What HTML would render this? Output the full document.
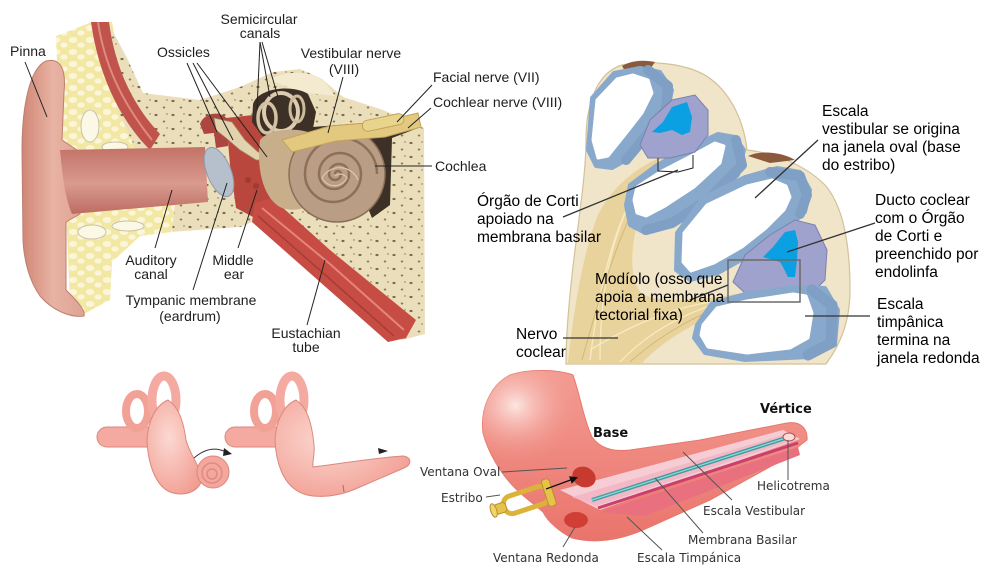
<!DOCTYPE html>
<html><head><meta charset="utf-8">
<style>
html,body{margin:0;padding:0;background:#fff;}
body{width:988px;height:580px;overflow:hidden;}
svg{display:block;}
.tl{font-family:"Liberation Sans",Arial,sans-serif;font-size:14px;fill:#1e1e1e;}
.tr{font-family:"Liberation Sans",Arial,sans-serif;font-size:15.5px;fill:#000;}
.br{font-family:"DejaVu Sans",Verdana,sans-serif;font-size:12px;fill:#333;}
.bb{font-family:"DejaVu Sans",Verdana,sans-serif;font-size:13px;font-weight:bold;fill:#111;}
</style></head><body>
<svg width="988" height="580" viewBox="0 0 988 580" xmlns="http://www.w3.org/2000/svg">
<defs>
<pattern id="bone" width="17" height="14" patternUnits="userSpaceOnUse">
<rect width="17" height="14" fill="#ebdfbb"/>
<ellipse cx="3" cy="3" rx="1.6" ry="1.1" fill="#7a6a4c"/>
<ellipse cx="11" cy="9.5" rx="1.3" ry="1" fill="#8a7856"/>
<ellipse cx="14" cy="2" rx="0.9" ry="0.7" fill="#9a8866"/>
</pattern>
<pattern id="fat" width="17" height="12" patternUnits="userSpaceOnUse">
<rect width="17" height="12" fill="#f2e8a4"/>
<ellipse cx="5" cy="4" rx="4.2" ry="3" fill="#fbf6da"/>
<ellipse cx="13" cy="9" rx="3.6" ry="2.6" fill="#fbf6da"/>
</pattern>
<linearGradient id="pinna" x1="0" y1="0" x2="1" y2="0">
<stop offset="0" stop-color="#d08676"/><stop offset="0.5" stop-color="#e8b3a3"/><stop offset="1" stop-color="#dda393"/>
</linearGradient>
<linearGradient id="canal" x1="0" y1="0" x2="0" y2="1">
<stop offset="0" stop-color="#c37267"/><stop offset="0.55" stop-color="#d99a8f"/><stop offset="1" stop-color="#bd6c61"/>
</linearGradient>
<linearGradient id="horn" x1="0" y1="0" x2="0" y2="1">
<stop offset="0" stop-color="#f39c92"/><stop offset="1" stop-color="#ea746c"/>
</linearGradient>
<radialGradient id="flare" cx="0.3" cy="0.35" r="0.6">
<stop offset="0" stop-color="#fde6e1"/><stop offset="1" stop-color="#f08f85" stop-opacity="0"/>
</radialGradient>
<radialGradient id="inner" cx="0.4" cy="0.4" r="0.7">
<stop offset="0" stop-color="#fbd9d2"/><stop offset="1" stop-color="#f29d92"/>
</radialGradient>
<marker id="ah" markerWidth="8" markerHeight="8" refX="6" refY="4" orient="auto" markerUnits="userSpaceOnUse">
<path d="M0,0 L8,4 L0,8 Z" fill="#111"/>
</marker>
</defs>

<!-- ================= TOP-LEFT EAR ================= -->
<path d="M56,36 L92,22 L112,22 L126,90 L152,150 L80,152 L60,140 Z" fill="url(#fat)"/>
<path d="M108,22 L128,60 L143,93 L200,100 L240,87 L273,72 L300,69 L322,79 L343,97 L383,110 L424,128 L425,334 L402,340 L330,275 L262,218 L240,227 L170,232 L160,215 L140,160 L118,110 Z" fill="url(#bone)"/>
<path d="M66,212 L175,205 L172,232 L140,236 L112,262 L110,300 L84,314 L70,300 Z" fill="url(#fat)"/>
<ellipse cx="92" cy="232" rx="14" ry="7" fill="#fbf8e6" stroke="#c8c2a8" stroke-width="1"/>
<ellipse cx="128" cy="226" rx="16" ry="5" fill="#fbf8e6" stroke="#c8c2a8" stroke-width="1"/>
<ellipse cx="90" cy="126" rx="9" ry="16" fill="#fbf8e6" stroke="#c8c2a8" stroke-width="1"/>
<ellipse cx="115" cy="147" rx="13" ry="5" fill="#fbf8e6" stroke="#c8c2a8" stroke-width="1"/>
<path d="M91,22 L109,22 C114,60 128,100 160,134 L150,150 C118,118 98,72 91,22 Z" fill="#c0534b"/>
<path d="M98,22 C104,62 120,100 152,140" stroke="#e08a80" stroke-width="2" fill="none"/>
<path d="M46,61 C62,57 66,72 64,92 L62,140 L80,152 L80,214 L66,222 L66,290 C76,300 86,310 84,316 C70,318 52,310 40,296 C30,282 24,262 23,240 L22,150 C22,105 30,68 46,61 Z" fill="url(#pinna)" stroke="#bd7f70" stroke-width="1"/>
<path d="M60,150 L205,147 L208,202 L72,214 C64,195 62,170 60,150 Z" fill="url(#canal)"/>
<path d="M226,118 L262,114 L280,150 L278,214 L255,218 L236,208 L230,165 Z" fill="#b9473e"/>
<circle cx="248" cy="180" r="3" fill="#a23a33"/><circle cx="256" cy="186" r="3" fill="#a23a33"/>
<ellipse cx="219" cy="172" rx="12" ry="26" transform="rotate(-22 219 172)" fill="#b5c0cc" stroke="#8f9cab" stroke-width="1"/>
<path d="M200,124 C204,112 222,110 228,120 L228,146 L216,148 L214,133 L204,134 Z" fill="#ad463e"/>
<path d="M214,118 L232,122 L245,140 L258,152 L270,152 L272,160 L256,160 L240,150 L226,138 L216,130 Z" fill="#e3d2ae" stroke="#9a8466" stroke-width="0.8"/>
<path d="M255,203 L272,198 L330,250 L416,320 L406,338 L388,342 L320,282 L252,222 Z" fill="#c64c44"/>
<path d="M262,208 L330,264 L404,330" stroke="#e6857a" stroke-width="2" fill="none"/>
<path d="M258,216 L322,272 L394,336" stroke="#a73c36" stroke-width="1.5" fill="none"/>
<path d="M270,80 C285,70 310,70 325,82 L335,96 L300,92 Z" fill="#f3ead0"/>
<path d="M253,104 C258,88 292,84 308,94 L316,112 L312,134 L286,140 L262,136 L252,122 Z" fill="#3c3027"/>
<ellipse cx="281" cy="112" rx="17" ry="19" fill="none" stroke="#dccdb0" stroke-width="4"/>
<ellipse cx="267" cy="118" rx="9" ry="15" fill="none" stroke="#d2c1a2" stroke-width="3.5"/>
<ellipse cx="297" cy="109" rx="7" ry="13" fill="none" stroke="#cdbb9a" stroke-width="3"/>
<path d="M300,128 L400,120 L418,128 L392,138 L390,205 L372,218 L340,140 L304,140 Z" fill="#3c3027"/>
<path d="M260,140 C270,128 300,126 318,136 L330,170 C325,200 305,215 282,208 C264,200 256,170 260,140 Z" fill="#c9ae8c"/>
<circle cx="337" cy="174" r="48" fill="#b99d84" stroke="#8b6f58" stroke-width="1.5"/>
<path d="M335,174 A3,3 0 0 1 341,174 A6,6 0 0 1 329,174 A10,10 0 0 1 349,174 A15,15 0 0 1 319,174 A21,21 0 0 1 361,174 A28,28 0 0 1 305,174 A36,36 0 0 1 377,174" fill="none" stroke="#8e705a" stroke-width="2.5"/>
<path d="M337,174 m-2,2 A8,8 0 0 1 347,178 A14,14 0 0 1 322,178 A20,20 0 0 1 358,180" fill="none" stroke="#d8c4ae" stroke-width="1.3"/>
<path d="M282,140 L330,126 L380,122 L418,113 L421,127 L385,137 L336,141 L292,152 Z" fill="#e3c97f" stroke="#c4a358" stroke-width="1"/>
<rect x="362" y="117" width="42" height="11" rx="5" transform="rotate(-12 383 122)" fill="#e9d48e" stroke="#c4a358" stroke-width="1"/>
<g stroke="#222" stroke-width="1" fill="none">
<line x1="25" y1="62" x2="47" y2="117"/>
<line x1="187" y1="63" x2="217" y2="132"/>
<line x1="193" y1="63" x2="233" y2="140"/>
<line x1="197" y1="63" x2="267" y2="157"/>
<line x1="260" y1="42" x2="257" y2="110"/>
<line x1="260" y1="42" x2="270" y2="97"/>
<line x1="262" y1="42" x2="278" y2="97"/>
<line x1="343" y1="77" x2="328" y2="133"/>
<line x1="432" y1="85" x2="397" y2="122"/>
<line x1="431" y1="108" x2="408" y2="128"/>
<line x1="375" y1="166" x2="432" y2="166"/>
<line x1="155" y1="248" x2="172" y2="190"/>
<line x1="238" y1="248" x2="257" y2="190"/>
<line x1="193" y1="290" x2="227" y2="183"/>
<line x1="307" y1="325" x2="325" y2="260"/>
</g>
<text class="tl" x="10" y="56">Pinna</text>
<text class="tl" x="259" y="24" text-anchor="middle">Semicircular</text>
<text class="tl" x="260" y="38" text-anchor="middle">canals</text>
<text class="tl" x="157" y="57">Ossicles</text>
<text class="tl" x="351" y="58" text-anchor="middle">Vestibular nerve</text>
<text class="tl" x="344" y="74" text-anchor="middle">(VIII)</text>
<text class="tl" x="433" y="82">Facial nerve (VII)</text>
<text class="tl" x="433" y="107">Cochlear nerve (VIII)</text>
<text class="tl" x="435" y="171">Cochlea</text>
<text class="tl" x="151" y="265" text-anchor="middle">Auditory</text>
<text class="tl" x="151" y="279" text-anchor="middle">canal</text>
<text class="tl" x="233" y="265" text-anchor="middle">Middle</text>
<text class="tl" x="234" y="279" text-anchor="middle">ear</text>
<text class="tl" x="191" y="305" text-anchor="middle">Tympanic membrane</text>
<text class="tl" x="190" y="321" text-anchor="middle">(eardrum)</text>
<text class="tl" x="306" y="338" text-anchor="middle">Eustachian</text>
<text class="tl" x="306" y="352" text-anchor="middle">tube</text>

<!-- ================= TOP-RIGHT CROSS-SECTION ================= -->
<path d="M592,100 C596,84 606,70 622,65 C645,60 690,62 712,80 C732,96 744,122 747,150 C765,152 800,160 825,185 C845,208 850,250 850,290 C850,322 840,345 826,364 L566,364 C566,330 570,290 575,250 C580,210 586,170 586,140 C586,122 588,110 592,100 Z" fill="#f0e5c8" stroke="#d3c199" stroke-width="1.2"/>
<path d="M622,66 C632,60 645,60 655,62 L648,72 L628,76 Z" fill="#8b5a3c"/>
<path d="M748,156 C760,150 782,152 795,160 L770,163 Z" fill="#8b5a3c"/>
<path d="M662,157 C640,165 612,186 598,215 C586,245 576,290 568,363 L642,363 C662,342 692,322 746,302 L736,294 C700,300 662,304 642,294 C628,280 630,240 642,210 C652,190 662,175 672,164 Z" fill="#e9d39c"/>
<g stroke="#f7eac2" stroke-width="1.3" fill="none">
<path d="M660,160 C630,190 605,240 590,360"/>
<path d="M655,165 C620,205 600,270 600,360"/>
<path d="M735,298 C690,310 650,330 620,362"/>
<path d="M725,300 C680,305 640,320 590,350"/>
</g>
<g stroke="#d3b777" stroke-width="1" fill="none">
<path d="M664,162 C636,192 612,250 582,360"/>
<path d="M740,300 C700,312 660,335 630,362"/>
</g>
<!-- cavity A -->
<path d="M592,98 L614,73 L640,68 L660,72 L672,90 L668,110 L650,135 L630,158 L612,168 L596,166 L588,150 Z" fill="#88a9cc" stroke="#88a9cc" stroke-width="4" stroke-linejoin="round"/>
<polyline points="648,70 668,86 666,110 646,136 626,160" fill="none" stroke="#7f9fc4" stroke-width="10" stroke-linejoin="round" stroke-linecap="round"/>
<path d="M597,100 L617,79 L633,75 L648,80 L652,93 L642,113 L624,136 L608,156 L598,158 L593,140 Z" fill="#fff" stroke="#fff" stroke-width="3" stroke-linejoin="round"/>
<!-- cavity B -->
<path d="M630,185 L657,165 L690,147 L718,134 L735,137 L744,150 L738,175 L705,205 L672,226 L645,233 L630,225 L626,205 Z" fill="#88a9cc" stroke="#88a9cc" stroke-width="4" stroke-linejoin="round"/>
<polyline points="736,140 742,165 708,200 672,223 646,230" fill="none" stroke="#7f9fc4" stroke-width="10" stroke-linejoin="round" stroke-linecap="round"/>
<path d="M637,187 L660,172 L693,155 L715,143 L724,146 L720,163 L694,187 L665,206 L646,216 L637,213 L634,200 Z" fill="#fff" stroke="#fff" stroke-width="3" stroke-linejoin="round"/>
<!-- upper organ -->
<path d="M640,145 L650,120 L672,100 L695,95 L708,110 L708,135 L695,152 L670,158 L648,158 Z" fill="#9ea2cc" stroke="#7c80b0" stroke-width="1"/>
<path d="M652,132 L663,122 L672,107 L687,102 L692,117 L690,132 L682,135 L672,130 L660,133 Z" fill="#0aa0e2"/>
<!-- cavity C -->
<path d="M677,233 L703,198 L745,177 L777,168 L800,172 L810,190 L805,212 L780,235 L750,255 L718,273 L690,280 L676,270 Z" fill="#88a9cc" stroke="#88a9cc" stroke-width="4" stroke-linejoin="round"/>
<polyline points="770,172 800,176 807,195 800,214" fill="none" stroke="#7f9fc4" stroke-width="10" stroke-linejoin="round" stroke-linecap="round"/>
<path d="M684,233 L707,205 L747,186 L772,180 L786,186 L790,197 L784,210 L766,228 L742,247 L714,263 L691,271 L683,262 Z" fill="#fff" stroke="#fff" stroke-width="3" stroke-linejoin="round"/>
<!-- lower organ -->
<path d="M733,282 L745,255 L770,235 L795,220 L815,225 L827,250 L825,280 L810,295 L770,296 L745,293 Z" fill="#9ea2cc" stroke="#7c80b0" stroke-width="1"/>
<path d="M763,257 L773,247 L785,232 L795,230 L798,242 L797,260 L795,277 L788,277 L783,267 L780,262 Z" fill="#0aa0e2"/>
<!-- cavity D -->
<path d="M697,325 L712,303 L745,294 L795,287 L825,288 L838,310 L835,345 L810,357 L745,360 L705,353 L694,338 Z" fill="#88a9cc" stroke="#88a9cc" stroke-width="4" stroke-linejoin="round"/>
<polyline points="812,290 832,305 831,343 808,355" fill="none" stroke="#7f9fc4" stroke-width="11" stroke-linejoin="round" stroke-linecap="round"/>
<path d="M703,325 L717,308 L747,301 L793,294 L806,296 L812,313 L808,338 L790,348 L747,353 L708,347 L701,335 Z" fill="#fff" stroke="#fff" stroke-width="3" stroke-linejoin="round"/>
<rect x="728" y="260" width="72" height="42" fill="none" stroke="#6a6a6a" stroke-width="1.5"/>
<polyline points="658,158 658,171 678,172 693,168 693,155" fill="none" stroke="#222" stroke-width="1"/>
<g stroke="#333" stroke-width="1.3" fill="none">
<line x1="563" y1="217" x2="678" y2="170"/>
<line x1="755" y1="198" x2="818" y2="140"/>
<line x1="875" y1="223" x2="787" y2="252"/>
<line x1="805" y1="316" x2="870" y2="316"/>
<line x1="563" y1="338" x2="618" y2="338"/>
<line x1="690" y1="300" x2="728" y2="285"/>
</g>
<text class="tr" x="822" y="116">Escala</text>
<text class="tr" x="822" y="134">vestibular se origina</text>
<text class="tr" x="822" y="152">na janela oval (base</text>
<text class="tr" x="822" y="170">do estribo)</text>
<text class="tr" x="477" y="206">Órgão de Corti</text>
<text class="tr" x="477" y="224">apoiado na</text>
<text class="tr" x="477" y="242">membrana basilar</text>
<text class="tr" x="875" y="205">Ducto coclear</text>
<text class="tr" x="875" y="223">com o Órgão</text>
<text class="tr" x="875" y="241">de Corti e</text>
<text class="tr" x="875" y="259">preenchido por</text>
<text class="tr" x="875" y="277">endolinfa</text>
<text class="tr" x="595" y="284">Modíolo (osso que</text>
<text class="tr" x="595" y="302">apoia a membrana</text>
<text class="tr" x="595" y="320">tectorial fixa)</text>
<text class="tr" x="877" y="309">Escala</text>
<text class="tr" x="877" y="327">timpânica</text>
<text class="tr" x="877" y="345">termina na</text>
<text class="tr" x="877" y="363">janela redonda</text>
<text class="tr" x="516" y="339">Nervo</text>
<text class="tr" x="516" y="357">coclear</text>

<!-- ================= BOTTOM-LEFT INNER EARS ================= -->
<g stroke="#dc877c" stroke-width="1">
<rect x="97" y="427" width="60" height="20" rx="10" fill="#f4aaa0"/>
<ellipse cx="137" cy="411" rx="11" ry="17" fill="none" stroke="#f2a197" stroke-width="8"/>
<ellipse cx="164" cy="400" rx="12" ry="24" fill="none" stroke="#f4aaa0" stroke-width="9"/>
<path d="M147,440 C148,420 156,405 168,400 C180,408 184,425 186,440 C190,455 200,466 202,478 C200,492 184,497 170,492 C156,486 148,465 147,440 Z" fill="url(#inner)"/>
</g>
<circle cx="213" cy="472" r="16" fill="#f4a79d" stroke="#dc877c" stroke-width="1"/>
<circle cx="212" cy="473" r="10" fill="none" stroke="#e08a80" stroke-width="1.5"/>
<circle cx="212" cy="474" r="5" fill="none" stroke="#e08a80" stroke-width="1.5"/>
<path d="M194,458 Q210,444 226,452" fill="none" stroke="#333" stroke-width="1"/>
<path d="M224,448 L232,454 L223,456 Z" fill="#222"/>
<g transform="translate(128,0)" stroke="#dc877c" stroke-width="1">
<rect x="97" y="427" width="60" height="20" rx="10" fill="#f4aaa0"/>
<ellipse cx="137" cy="411" rx="11" ry="17" fill="none" stroke="#f2a197" stroke-width="8"/>
<ellipse cx="164" cy="400" rx="12" ry="24" fill="none" stroke="#f4aaa0" stroke-width="9"/>
<path d="M147,440 C148,420 156,405 168,400 C180,408 184,425 186,445 C187,455 184,462 185,467 C210,464 245,458 275,456 C284,457 284,465 276,468 L225,490 C205,498 180,499 168,490 C156,482 148,465 147,440 Z" fill="url(#inner)"/>
</g>
<path d="M378,448 L388,451 L379,454 Z" fill="#222"/>
<line x1="343" y1="485" x2="344" y2="492" stroke="#b06a60" stroke-width="1"/>

<!-- ================= BOTTOM-RIGHT UNCOILED COCHLEA ================= -->
<path d="M483,433 C480,410 490,385 510,375 C530,368 560,370 573,375 C580,395 584,420 592,437 C600,448 612,452 630,450 L700,440 L787,423 C800,421 808,428 807,440 L777,463 L710,500 L643,530 C620,540 595,544 572,538 C560,532 548,522 543,512 C535,505 525,498 515,488 C500,473 488,452 483,433 Z" fill="url(#horn)" stroke="#e7786e" stroke-width="1"/>
<path d="M483,433 C480,410 490,385 510,375 C530,368 560,370 573,375 C580,395 584,420 592,437 C570,455 530,470 510,470 C495,460 487,448 483,433 Z" fill="url(#flare)"/>
<path d="M560,490 L783,430 L800,439 L600,510 Z" fill="#f7cdd5"/>
<path d="M572,497 L786,434 L797,439 L596,506 Z" fill="#f3b8c6"/>
<line x1="592" y1="500" x2="792" y2="436" stroke="#3f9ea2" stroke-width="4"/>
<line x1="592" y1="500" x2="792" y2="436" stroke="#9ad6d6" stroke-width="1.2"/>
<line x1="598" y1="508" x2="798" y2="443" stroke="#c93f6e" stroke-width="3"/>
<path d="M600,512 L798,447 L800,455 L645,516 Z" fill="#e9707e"/>
<ellipse cx="789" cy="437" rx="6" ry="4" fill="#f9dcdc" stroke="#b04a50" stroke-width="1"/>
<ellipse cx="584" cy="477" rx="12" ry="10" transform="rotate(25 584 477)" fill="#c73a30"/>
<ellipse cx="576" cy="520" rx="12" ry="8" fill="#cf3f35"/>
<g transform="rotate(-18 526 500)">
<rect x="503" y="491" width="46" height="18" rx="8" fill="none" stroke="#dcb33a" stroke-width="5"/>
<rect x="546" y="486" width="8" height="28" rx="3" fill="#e6c24a" stroke="#b8902a" stroke-width="1"/>
<rect x="493" y="495" width="12" height="10" rx="3" fill="#e6c24a" stroke="#b8902a" stroke-width="1"/>
<ellipse cx="492" cy="500" rx="3" ry="7" fill="#f0d470" stroke="#b8902a" stroke-width="1"/>
</g>
<line x1="546" y1="489" x2="576" y2="478" stroke="#111" stroke-width="1.2" marker-end="url(#ah)"/>
<g stroke="#555" stroke-width="1" fill="none">
<line x1="502" y1="472" x2="567" y2="468"/>
<line x1="486" y1="497" x2="500" y2="495"/>
<line x1="563" y1="547" x2="575" y2="527"/>
<line x1="662" y1="550" x2="627" y2="517"/>
<line x1="703" y1="533" x2="655" y2="478"/>
<line x1="732" y1="500" x2="683" y2="452"/>
<line x1="788" y1="480" x2="788" y2="440"/>
</g>
<text class="bb" x="760" y="413">Vértice</text>
<text class="bb" x="593" y="437">Base</text>
<text class="br" x="420" y="476">Ventana Oval</text>
<text class="br" x="441" y="502">Estribo</text>
<text class="br" x="493" y="562">Ventana Redonda</text>
<text class="br" x="637" y="562">Escala Timpánica</text>
<text class="br" x="688" y="544">Membrana Basilar</text>
<text class="br" x="703" y="515">Escala Vestibular</text>
<text class="br" x="757" y="490">Helicotrema</text>
</svg>
</body></html>
